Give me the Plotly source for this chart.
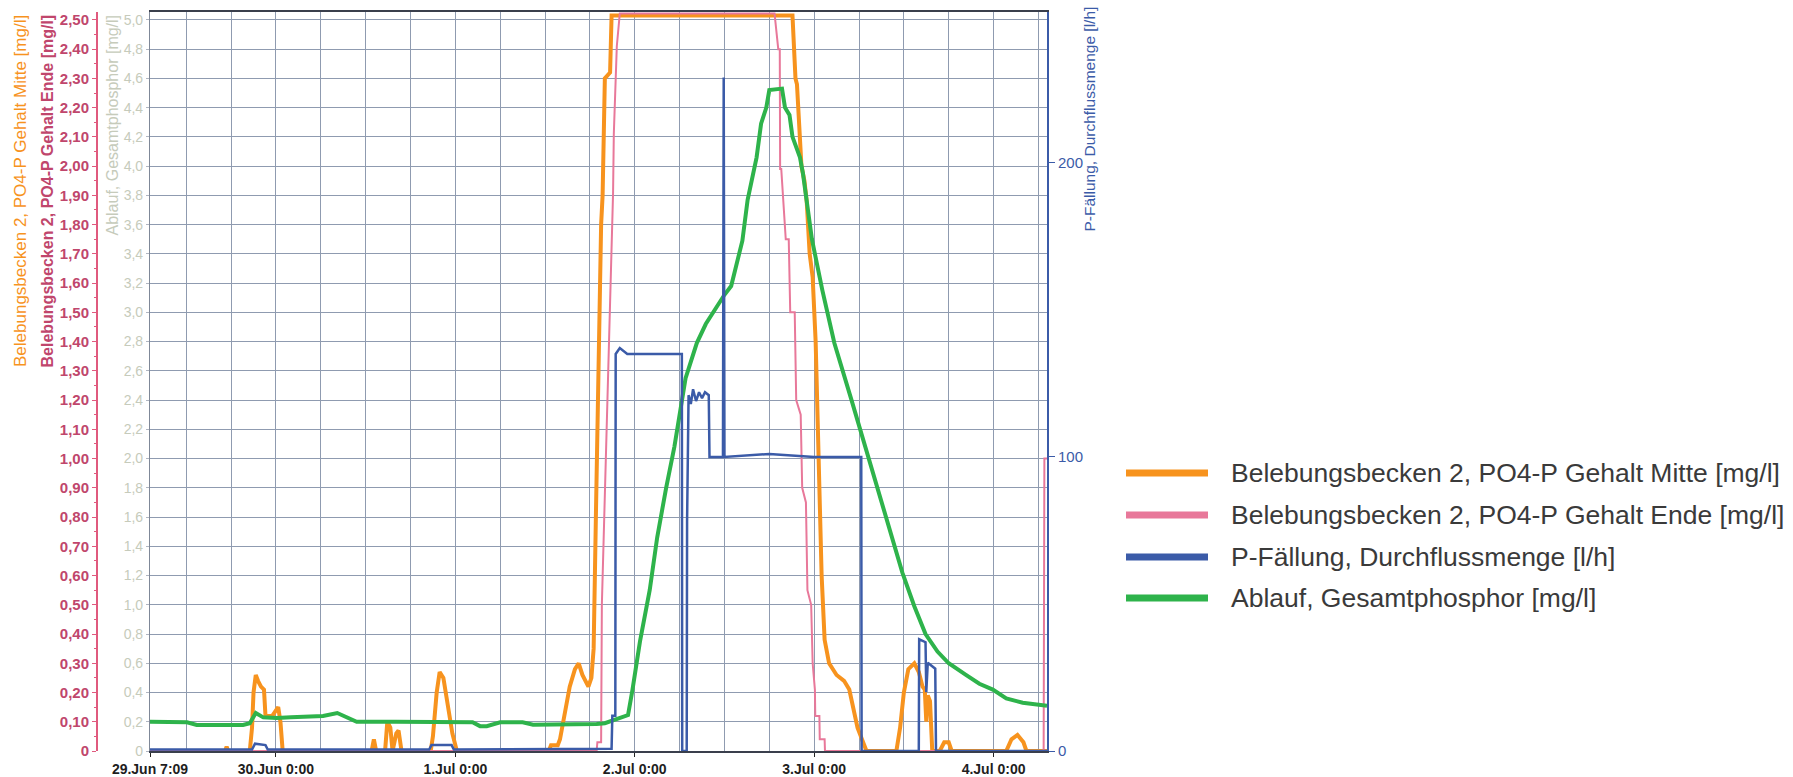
import plotly.graph_objects as go
import pandas as pd

# ---------------- data (time = hours since 29.Jun 0:00) ----------------
x_start_h, x_end_h = 7.15, 127.15
x_tick_hours = [7.15, 24, 48, 72, 96, 120]
x_tick_labels = ["29.Jun 7:09", "30.Jun 0:00", "1.Jul 0:00", "2.Jul 0:00", "3.Jul 0:00", "4.Jul 0:00"]

red_tick_vals = [round(i * 0.1, 2) for i in range(26)]
red_tick_labels = ["0"] + [f"{v:.2f}".replace(".", ",") for v in red_tick_vals[1:]]
green_tick_vals = [round(i * 0.2, 1) for i in range(26)]
green_tick_labels = ["0"] + [f"{v:.1f}".replace(".", ",") for v in green_tick_vals[1:]]
blue_tick_vals = [0, 100, 200]
blue_tick_labels = ["0", "100", "200"]

series_names = [
    "Belebungsbecken 2, PO4-P Gehalt Mitte [mg/l]",
    "Belebungsbecken 2, PO4-P Gehalt Ende [mg/l]",
    "P-Fällung, Durchflussmenge [l/h]",
    "Ablauf, Gesamtphosphor [mg/l]",
]

orange_h = [7.15, 17.2, 17.4, 17.6, 20.5, 20.8, 21.0, 21.3, 21.6, 22.0, 22.4, 22.6, 23.5, 24.3, 24.6, 24.9,
            36.8, 37.1, 37.4, 38.6, 38.9, 39.3, 39.6, 40.1, 40.4, 40.8,
            44.7, 45.0, 45.5, 45.9, 46.4, 47.0, 47.6, 48.2,
            60.5, 60.8, 61.7, 62.0, 62.6, 63.3, 64.0, 64.5, 65.0, 65.8, 66.2, 66.5, 66.8, 67.2, 67.5, 67.7,
            67.8, 68.0, 68.7, 68.9, 93.1, 93.5, 93.7, 94.3, 94.7, 95.0, 95.4, 95.8, 96.2, 96.6, 97.0, 97.4,
            98.0, 99.0, 100.0, 100.7, 101.8, 103.0,
            107.0, 107.5, 108.0, 108.6, 109.4, 110.0, 110.5, 110.8, 111.0, 111.2, 111.5, 111.8,
            112.8, 113.4, 114.0, 114.4, 121.7, 122.4, 123.2, 124.0, 124.4, 127.15]
orange_v = [0, 0, 0.015, 0, 0, 0.08, 0.20, 0.26, 0.24, 0.22, 0.21, 0.12, 0.12, 0.15, 0.10, 0,
            0, 0.04, 0, 0, 0.10, 0.08, 0, 0.06, 0.07, 0,
            0, 0.05, 0.20, 0.27, 0.25, 0.15, 0.06, 0,
            0, 0.02, 0.02, 0.04, 0.12, 0.22, 0.28, 0.30, 0.26, 0.22, 0.25, 0.35, 0.80, 1.40, 1.80, 1.90,
            2.08, 2.30, 2.32, 2.515, 2.515, 2.30, 2.28, 2.00, 1.95, 1.88, 1.70, 1.62, 1.40, 1.00, 0.60, 0.38,
            0.30, 0.26, 0.24, 0.21, 0.08, 0,
            0, 0.08, 0.20, 0.28, 0.30, 0.27, 0.22, 0.21, 0.10, 0.19, 0.17, 0,
            0, 0.03, 0.03, 0, 0, 0.04, 0.055, 0.03, 0, 0]

pink_h = [7.15, 66.9, 67.0, 67.5, 67.6, 68.0, 68.4, 68.8, 69.1, 69.2, 69.6, 70.0, 90.7, 91.2, 91.4, 91.45,
          91.6, 92.2, 92.6, 92.8, 93.4, 93.6, 94.2, 94.4, 94.9, 95.1, 95.6, 95.8, 96.1, 96.15, 96.7, 96.75,
          97.4, 97.45, 126.7, 126.8, 127.15]
pink_v = [0, 0, 0.03, 0.03, 0.5, 0.9, 1.3, 1.7, 1.91, 2.11, 2.41, 2.522, 2.522, 2.40, 2.40, 1.99,
          1.99, 1.75, 1.75, 1.50, 1.50, 1.20, 1.15, 0.90, 0.85, 0.55, 0.50, 0.30, 0.21, 0.12, 0.12, 0.04,
          0.04, 0, 0, 1.0, 1.0]

blue_h = [7.15, 20.8, 21.2, 22.6, 22.9, 44.5, 44.8, 47.5, 47.8, 68.9, 69.0, 69.4, 69.45, 70.0, 71.0, 78.3,
          78.35, 78.95, 79.0, 79.2, 79.5, 79.8, 80.2, 80.6, 81.0, 81.4, 81.9, 82.0, 83.8, 83.9, 84.0, 90.0,
          96.0, 102.3, 102.35, 110.0, 110.05, 110.9, 111.0, 111.2, 112.2, 112.3, 127.15]
blue_v = [0.5, 0.5, 2.5, 2.0, 0.5, 0.5, 2.0, 2.0, 0.5, 0.8, 12, 12, 135, 137, 135, 135,
          0, 0, 78, 121, 118, 123, 119, 122, 120, 122, 121, 100, 100, 229, 100, 101,
          100, 100, 0, 0, 38, 37, 20, 30, 28, 0, 0]

green_h = [7.15, 10.0, 12.1, 13.4, 17.0, 19.6, 20.5, 21.3, 22.3, 24.1, 26.0, 29.5, 30.3, 32.2, 33.0, 34.8,
           40.0, 45.9, 50.3, 51.3, 52.2, 54.0, 57.0, 58.4, 63.0, 66.9, 68.0, 69.1, 71.1, 71.7, 72.7, 74.0,
           75.0, 76.2, 77.3, 78.8, 80.3, 81.5, 82.7, 84.0, 84.9, 86.4, 87.1, 88.3, 88.9, 89.6, 90.0, 91.7,
           92.1, 92.7, 93.1, 94.1, 94.5, 95.0, 95.7, 97.1, 98.7, 101.0, 103.3, 105.6, 107.8, 109.4, 110.9,
           112.5, 114.0, 116.3, 118.1, 119.9, 121.7, 123.9, 126.5, 127.15]
green_v = [0.20, 0.20, 0.196, 0.178, 0.175, 0.178, 0.19, 0.26, 0.23, 0.226, 0.23, 0.235, 0.24, 0.26, 0.24, 0.20,
           0.20, 0.196, 0.196, 0.17, 0.17, 0.196, 0.196, 0.18, 0.18, 0.185, 0.19, 0.21, 0.246, 0.42, 0.75, 1.10,
           1.46, 1.80, 2.08, 2.55, 2.79, 2.92, 3.02, 3.12, 3.18, 3.49, 3.77, 4.06, 4.29, 4.40, 4.52, 4.53,
           4.40, 4.35, 4.20, 4.06, 3.95, 3.77, 3.50, 3.15, 2.79, 2.40, 2.00, 1.61, 1.22, 0.99, 0.80,
           0.68, 0.60, 0.52, 0.46, 0.42, 0.36, 0.33, 0.315, 0.31]

# ---------------- styling ----------------
W, H = 1793, 777
PLOT_L, PLOT_R, PLOT_T, PLOT_B = 150, 1047, 12, 751
BASE = pd.Timestamp("2021-06-29 00:00")

ORANGE = "#f7931e"
PINK = "#e8789a"
BLUE = "#3b5ba8"
GREEN = "#2eb34b"
RED_AX = "#e05a7e"
RED_TXT = "#c0466c"
GREEN_TXT = "#c6cbbb"
GRID = "#8f9bb0"
FONT = "Liberation Sans, Arial, sans-serif"


def t(hours):
    return [BASE + pd.Timedelta(hours=h) for h in hours]


def px(x):
    return x / W


def py(y):
    return (PLOT_B - y) / (PLOT_B - PLOT_T)


fig = go.Figure()
fig.add_trace(go.Scatter(x=t(orange_h), y=orange_v, yaxis="y", mode="lines", name=series_names[0],
                         line=dict(color=ORANGE, width=4)))
fig.add_trace(go.Scatter(x=t(pink_h), y=pink_v, yaxis="y", mode="lines", name=series_names[1],
                         line=dict(color=PINK, width=2)))
fig.add_trace(go.Scatter(x=t(blue_h), y=blue_v, yaxis="y3", mode="lines", name=series_names[2],
                         line=dict(color=BLUE, width=2.5)))
fig.add_trace(go.Scatter(x=t(green_h), y=green_v, yaxis="y2", mode="lines", name=series_names[3],
                         line=dict(color=GREEN, width=4)))

fig.update_layout(
    width=W, height=H,
    margin=dict(l=0, r=0, t=PLOT_T, b=H - PLOT_B, autoexpand=False),
    paper_bgcolor="white", plot_bgcolor="white",
    showlegend=False,
    font=dict(family=FONT),
    xaxis=dict(
        domain=[px(PLOT_L), px(PLOT_R)], type="date", automargin=False,
        range=[BASE + pd.Timedelta(hours=x_start_h), BASE + pd.Timedelta(hours=x_end_h)],
        tickvals=t(x_tick_hours), ticktext=x_tick_labels,
        ticks="outside", ticklen=4, tickcolor="#222",
        tickfont=dict(size=14, color="#1e1e1e", weight="bold"),
        showgrid=True, gridcolor=GRID, gridwidth=1.2,
        minor=dict(dtick=6 * 3600 * 1000, tick0=BASE, showgrid=True, gridcolor=GRID, gridwidth=1.2),
        showline=True, linecolor="#3a3f4c", linewidth=1.5, mirror=True,
        zeroline=False, anchor="y",
    ),
    yaxis=dict(
        domain=[0, 1], range=[0, 2.527], anchor="free", position=px(97), side="left", automargin=False,
        tickvals=red_tick_vals, ticktext=red_tick_labels,
        ticks="outside", ticklen=4, tickcolor=RED_AX,
        tickfont=dict(size=15, color=RED_TXT, weight="bold"),
        minor=dict(dtick=0.05, ticks="outside", ticklen=2, tickcolor=RED_AX, showgrid=False),
        showline=True, linecolor=RED_AX, linewidth=2,
        showgrid=True, gridcolor=GRID, gridwidth=1.2, zeroline=False,
    ),
    yaxis2=dict(
        overlaying="y", anchor="x", side="left", range=[0, 5.054], automargin=False,
        tickvals=green_tick_vals, ticktext=green_tick_labels,
        ticks="outside", ticklen=3, tickcolor="#b0b6c2",
        tickfont=dict(size=14, color=GREEN_TXT),
        showline=True, linecolor="#7f8898", linewidth=1.2,
        showgrid=False, zeroline=False,
    ),
    yaxis3=dict(
        overlaying="y", anchor="x", side="right", range=[0, 251.3], automargin=False,
        tickvals=blue_tick_vals, ticktext=blue_tick_labels,
        ticks="outside", ticklen=6, tickcolor=BLUE,
        tickfont=dict(size=15, color=BLUE),
        showline=True, linecolor=BLUE, linewidth=2,
        showgrid=False, zeroline=False,
    ),
)

# axis titles (top aligned like the original)
axis_titles = [
    (series_names[0], 20, PLOT_T + 1, ORANGE, 17, "normal"),
    (series_names[1], 47, PLOT_T + 1, RED_TXT, 16, "bold"),
    (series_names[3], 112, PLOT_T + 1, GREEN_TXT, 16, "normal"),
    (series_names[2], 1089, 5, BLUE, 15.5, "normal"),
]
for text, xc, ytop, col, size, weight in axis_titles:
    fig.add_annotation(text=text, xref="paper", yref="paper", x=px(xc), y=py(ytop),
                       xanchor="center", yanchor="top", textangle=-90, showarrow=False,
                       font=dict(size=size, color=col, family=FONT, weight=weight))

# legend (drawn manually so the long thick key lines match)
legend_rows_y = [473, 515, 557, 598]
legend_colors = [ORANGE, PINK, BLUE, GREEN]
for name, col, yy in zip(series_names, legend_colors, legend_rows_y):
    fig.add_shape(type="line", xref="paper", yref="paper", x0=px(1126), x1=px(1208),
                  y0=py(yy), y1=py(yy), line=dict(color=col, width=7))
    fig.add_annotation(text=name, xref="paper", yref="paper", x=px(1229), y=py(yy),
                       xanchor="left", yanchor="middle", showarrow=False,
                       font=dict(size=26.5, color="#3a3a3a", family=FONT))

fig.write_html("out.html")
